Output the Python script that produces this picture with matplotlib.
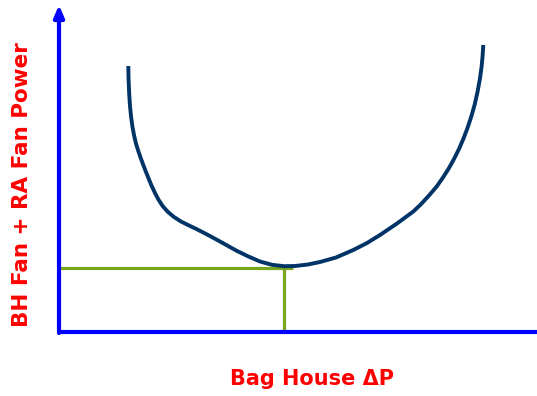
import matplotlib
matplotlib.use("Agg")
import matplotlib.pyplot as plt

# Curve of fan power vs bag house dP (chart units, origin at axis corner)
curve_x = [69.3, 69.6, 70.2, 71.0, 72.1, 73.5, 75.2, 77.1, 79.3, 81.7, 84.3, 87.0,
           89.8, 92.7, 96.0, 99.7, 104.0, 109.0, 115.0, 122.0, 130.0, 138.0,
           150.0, 163.0, 177.7, 189.0, 201.0, 213.0, 225.0, 236.0, 249.0, 261.0,
           277.0, 294.3, 308.0, 321.0, 338.0, 354.3, 362.0, 370.0, 377.7, 384.0,
           390.0, 395.0, 400.0, 404.5, 408.5, 412.3, 415.7, 418.5, 420.8, 422.5,
           423.6, 424.3]
curve_y = [266.0, 252.0, 238.0, 226.0, 215.0, 205.0, 196.0, 188.0, 181.0, 174.0, 167.0,
           160.0, 153.0, 146.0, 139.0, 132.0, 125.5, 120.0, 115.0, 110.5, 106.5,
           102.7, 96.5, 89.4, 81.2, 75.7, 70.5, 67.2, 65.8, 66.0, 67.5, 70.0,
           74.5, 82.0, 89.0, 97.0, 108.5, 120.5, 127.8, 136.5, 145.5, 154.5,
           164.0, 173.0, 183.0, 193.5, 204.0, 215.5, 227.5, 240.0, 252.5, 264.5,
           276.0, 287.0]

# Optimum operating point
opt_x = 225.0
opt_y = 63.7
hline_end = 233.7

x_label = "Bag House \u0394P"
y_label = "BH Fan + RA Fan Power"

fig = plt.figure(figsize=(5.37, 3.96), dpi=100)
ax = fig.add_axes([0, 0, 1, 1])
ax.set_xlim(-59, 478)
ax.set_ylim(-64, 332)
ax.axis("off")

blue = "#0000FF"
navy = "#003366"
green = "#78A61E"
red = "#FF0000"

# axes
ax.plot([0, 478], [0, 0], color=blue, lw=3.0, solid_capstyle="butt", zorder=3)
ax.annotate("", xy=(0, 327), xytext=(0, -1),
            arrowprops=dict(arrowstyle="-|>,head_length=0.7,head_width=0.3",
                            color=blue, lw=3.0, shrinkA=0, shrinkB=0), zorder=3)

# green guide lines
ax.plot([0, hline_end], [opt_y, opt_y], color=green, lw=2.3, solid_capstyle="butt", zorder=2)
ax.plot([opt_x, opt_x], [0, opt_y], color=green, lw=2.3, solid_capstyle="butt", zorder=2)

# curve
ax.plot(curve_x, curve_y, color=navy, lw=2.8, solid_joinstyle="round",
        solid_capstyle="butt", zorder=4)

fig.text(312 / 537, 1 - 379 / 396, x_label, color=red, fontsize=15, fontweight="bold",
         ha="center", va="center", family="DejaVu Sans")
fig.text(22.5 / 537, 1 - 185 / 396, y_label, color=red, fontsize=15.5, fontweight="bold",
         ha="center", va="center", rotation=90, family="DejaVu Sans")

fig.savefig("out.png", dpi=100)
